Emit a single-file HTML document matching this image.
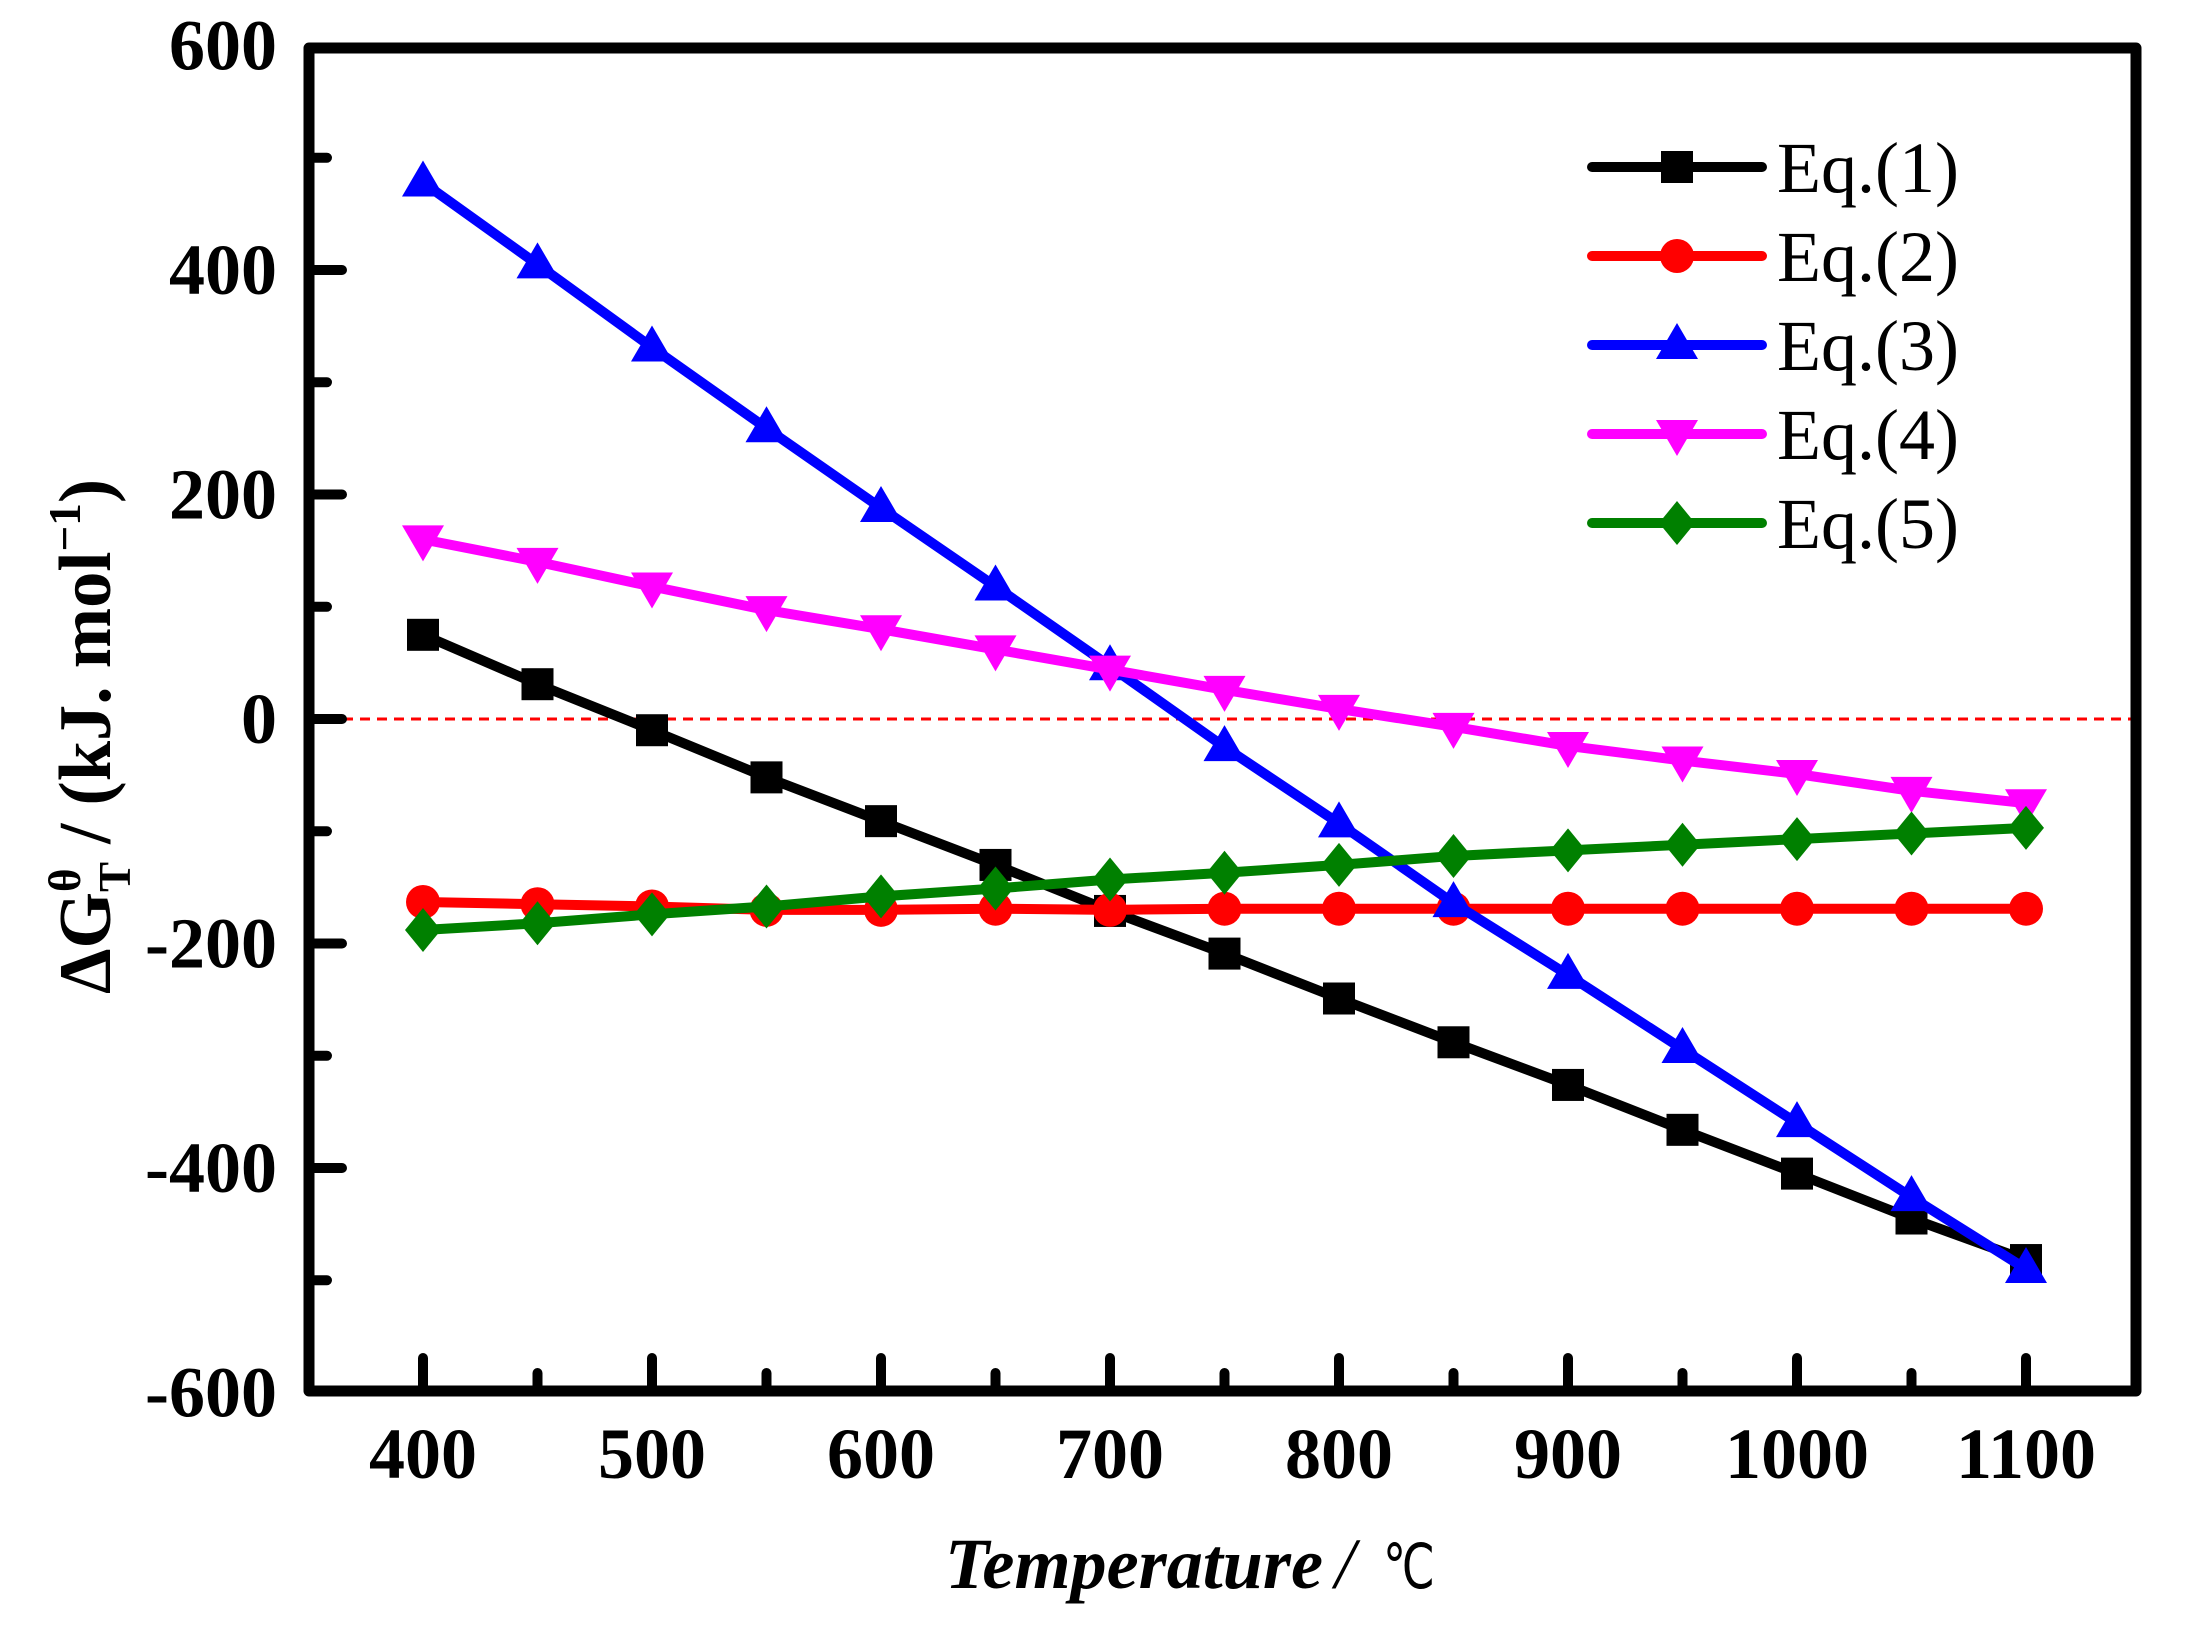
<!DOCTYPE html>
<html><head><meta charset="utf-8"><style>
html,body{margin:0;padding:0;background:#fff;}
svg{display:block;}
</style></head><body>
<svg id="s" width="2187" height="1628" xmlns="http://www.w3.org/2000/svg" font-family="'Liberation Serif', serif">
<rect width="2187" height="1628" fill="#fff"/>
<line x1="309" y1="719" x2="2136" y2="719" stroke="#f00" stroke-width="3" stroke-dasharray="10,7"/>
<g id="series"></g>
<rect x="309" y="48" width="1827" height="1343" fill="none" stroke="#000" stroke-width="11" stroke-linejoin="round"/>
<g id="ticks" stroke="#000" stroke-width="10" stroke-linecap="round"></g>
<g id="labels" font-weight="bold" font-size="72"></g>
<text x="945" y="1588" font-size="72" font-weight="bold" font-style="italic" textLength="378" lengthAdjust="spacingAndGlyphs">Temperature</text>
<text x="1335" y="1588" font-size="72" font-style="italic">/</text>
<text x="1383" y="1588" font-size="62" textLength="52" lengthAdjust="spacingAndGlyphs">℃</text>
<g transform="translate(110,994) rotate(-90)">
<text x="0" y="0" font-size="74" font-weight="bold" textLength="515" lengthAdjust="spacingAndGlyphs">ΔG<tspan dy="-30" font-size="46">θ</tspan><tspan dx="-24" dy="50" font-size="46">T</tspan><tspan dy="-20"> /  (kJ. mol</tspan><tspan dy="-30" font-size="46">−1</tspan><tspan dy="30">)</tspan></text>
</g>
<g id="legend"></g>
</svg>
<script>
var NS="http://www.w3.org/2000/svg";
function el(t,a,p){var e=document.createElementNS(NS,t);for(var k in a)e.setAttribute(k,a[k]);p.appendChild(e);return e;}
function X(v){return 423+(v-400)*1603/700;}
function Y(v){return 719-v*1.1225;}
var ticks=document.getElementById('ticks'),labels=document.getElementById('labels');
for(var v=-500;v<600;v+=100){var y=Y(v),len=(v%200===0)?33:18;el('line',{x1:309,y1:y,x2:309+len,y2:y},ticks);}
for(var v=-600;v<=600;v+=200){var t=el('text',{x:277,y:Y(v)+24,'text-anchor':'end'},labels);t.textContent=(v<0?'-':'')+Math.abs(v);}
for(var v=400;v<=1100;v+=50){var x=X(v),len=(v%100===0)?33:18;el('line',{x1:x,y1:1391,x2:x,y2:1391-len},ticks);
 if(v%100===0){var t=el('text',{x:x,y:1478,'text-anchor':'middle'},labels);t.textContent=v;}}
var xs=[];for(var v=400;v<=1100;v+=50)xs.push(v);
var S=[
 {c:'#000',m:'sq',d:[75,31,-10,-52,-91,-130,-171,-209,-249,-288,-326,-366,-405,-445,-482]},
 {c:'#f00',m:'ci',d:[-163,-165,-167,-170,-170,-169,-170,-169,-169,-169,-169,-169,-169,-169,-169]},
 {c:'#00f',m:'tu',d:[478,405,331,259,188,118,47,-25,-93,-164,-228,-294,-360,-426,-490]},
 {c:'#f0f',m:'td',d:[160,140,118,97,80,62,44,26,9,-7,-24,-37,-49,-64,-75]},
 {c:'#008000',m:'di',d:[-188,-182,-174,-167,-158,-151,-143,-137,-130,-122,-117,-112,-107,-102,-97]}
];
function marker(m,x,y,c,p){
 if(m==='sq')el('rect',{x:x-16,y:y-16,width:32,height:32,fill:c},p);
 else if(m==='ci')el('circle',{cx:x,cy:y,r:17,fill:c},p);
 else if(m==='tu')el('polygon',{points:(x)+','+(y-22)+' '+(x-21)+','+(y+14)+' '+(x+21)+','+(y+14),fill:c},p);
 else if(m==='td')el('polygon',{points:(x)+','+(y+22)+' '+(x-21)+','+(y-14)+' '+(x+21)+','+(y-14),fill:c},p);
 else el('polygon',{points:x+','+(y-22)+' '+(x+18)+','+y+' '+x+','+(y+22)+' '+(x-18)+','+y,fill:c},p);
}
var sg=document.getElementById('series');
S.forEach(function(s){
 var pts=s.d.map(function(v,i){return X(xs[i])+','+Y(v);}).join(' ');
 el('polyline',{points:pts,fill:'none',stroke:s.c,'stroke-width':10,'stroke-linejoin':'round'},sg);
 s.d.forEach(function(v,i){marker(s.m,X(xs[i]),Y(v),s.c,sg);});
});
var lg=document.getElementById('legend');
S.forEach(function(s,i){var y=167+i*89;
 el('line',{x1:1592,y1:y,x2:1762,y2:y,stroke:s.c,'stroke-width':10,'stroke-linecap':'round'},lg);
 marker(s.m,1677,y,s.c,lg);
 var t=el('text',{x:1777,y:y+25,'font-size':72},lg);t.textContent='Eq.('+(i+1)+')';
});
</script>
</body></html>
